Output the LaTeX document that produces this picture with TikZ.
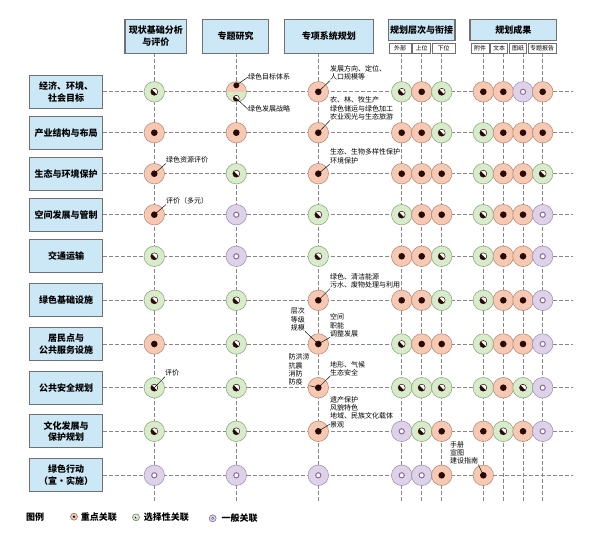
\documentclass[tikz,border=0pt]{standalone}
\usepackage{fontspec}
\setmainfont{Noto Sans CJK SC}
\usepackage{tikz}
\usetikzlibrary{positioning}
\usetikzlibrary{backgrounds}

\definecolor{boxfill}{RGB}{204,232,247}
\definecolor{boxline}{RGB}{112,112,112}
\definecolor{gridcol}{RGB}{142,132,128}
\definecolor{keyfill}{RGB}{248,201,178}
\definecolor{keyline}{RGB}{184,142,126}
\definecolor{selfill}{RGB}{216,235,203}
\definecolor{selline}{RGB}{146,172,132}
\definecolor{genfill}{RGB}{221,210,232}
\definecolor{genline}{RGB}{165,148,184}
\definecolor{genring}{RGB}{139,107,153}
\definecolor{dotcol}{RGB}{43,10,10}

\begin{document}
\begin{tikzpicture}[x=1pt,y=-1pt,
	gridline/.style={draw=gridcol, line width=0.8pt, dash pattern=on 4pt off 2pt},
	leader/.style={draw=black, line width=0.45pt},
	headbox/.style={draw=boxline, line width=1.2pt, fill=boxfill, rectangle, inner sep=1pt,
		align=center, font=\fontsize{9}{11.5}\selectfont\bfseries},
	rowbox/.style={headbox, minimum width=73pt, minimum height=33pt},
	subbox/.style={draw=boxline, line width=0.8pt, fill=white, rectangle, minimum height=10pt,
		inner sep=0pt, font=\fontsize{6}{6}\selectfont},
	note/.style={inner sep=0pt, anchor=north west, align=left, font=\fontsize{7}{8.4}\selectfont},
	legendtext/.style={inner sep=0pt, font=\fontsize{9}{9}\selectfont\bfseries},
	% Kreisymbole
	cellbase/.style={circle, inner sep=0pt, minimum size=20.5pt, line width=0.6pt},
	cell/.style={cellbase, #1cell},
	keycell/.style={draw=keyline, fill=keyfill, path picture={
		\fill[dotcol] (path picture bounding box.center) circle (3.3pt);}},
	selcell/.style={draw=selline, fill=selfill, path picture={
		\fill[white] (path picture bounding box.center) circle (3.5pt);
		\fill[dotcol] (path picture bounding box.center) ++(135:3.5pt)
			arc[start angle=135, end angle=315, radius=3.5pt] -- cycle;
		\draw[dotcol, line width=0.5pt] (path picture bounding box.center) circle (3.5pt);}},
	gencell/.style={draw=genline, fill=genfill, path picture={
		\draw[genring, line width=1pt, fill=white] (path picture bounding box.center) circle (2.6pt);}},
	splitcell/.style={draw=keyline!50!selline, path picture={
		\fill[keyfill] (path picture bounding box.north west) rectangle (path picture bounding box.east);
		\fill[selfill] (path picture bounding box.west) rectangle (path picture bounding box.south east);
		\fill[dotcol] ([yshift=6.5pt]path picture bounding box.center) circle (3pt);
		\fill[white] ([yshift=-6.5pt]path picture bounding box.center) circle (3pt);
		\fill[dotcol] ([yshift=-6.5pt]path picture bounding box.center) ++(135:3pt)
			arc[start angle=135, end angle=315, radius=3pt] -- cycle;
		\draw[dotcol, line width=0.5pt] ([yshift=-6.5pt]path picture bounding box.center) circle (3pt);}},
	nonecell/.style={minimum size=0pt},
	% Legende
	markbase/.style={circle, inner sep=0pt, minimum size=7pt, line width=0.5pt},
	keymark/.style={markbase, draw=keyline!70!black, fill=keyfill, path picture={
		\fill[dotcol] (path picture bounding box.center) circle (1.3pt);}},
	selmark/.style={markbase, draw=selline!70!black, fill=selfill, path picture={
		\fill[white] (path picture bounding box.center) circle (1.6pt);
		\fill[dotcol] (path picture bounding box.center) ++(135:1.6pt)
			arc[start angle=135, end angle=315, radius=1.6pt] -- cycle;}},
	genmark/.style={markbase, draw=genline!70!black, fill=genfill, path picture={
		\draw[genring, line width=0.6pt, fill=white] (path picture bounding box.center) circle (1.2pt);}},
	]

	\useasboundingbox (0,0) rectangle (600,544);

	% Kopfzeile
	% ----------
	\node[headbox, minimum width=61.7pt, minimum height=34pt] (hBase) at (155.8,36.3) {现状基础分析\\与评价};
	\node[headbox, minimum width=66.4pt, minimum height=34pt] (hTopic) at (235.5,36.3) {专题研究};
	\node[headbox, minimum width=89pt, minimum height=34pt] (hSystem) at (328.8,36.3) {专项系统规划};
	\node[headbox, minimum width=66.7pt, minimum height=21.4pt] (hLevel) at (421.7,30) {规划层次与衔接};
	\node[headbox, minimum width=86.7pt, minimum height=21.4pt] (hResult) at (513.3,30) {规划成果};

	\node[subbox, minimum width=22pt] (sOut) at (400,48.3) {外部};
	\node[subbox, minimum width=18pt] (sUp) at (421.7,48.3) {上位};
	\node[subbox, minimum width=22.7pt] (sDown) at (443.7,48.3) {下位};
	\node[subbox, minimum width=18pt] (sAnnex) at (480,48.3) {附件};
	\node[subbox, minimum width=17pt] (sText) at (499.2,48.3) {文本};
	\node[subbox, minimum width=17.4pt] (sMap) at (518,48.3) {图纸};
	\node[subbox, minimum width=27.7pt] (sReport) at (542.2,48.3) {专题报告};

	\foreach \ci/\xx in {1/154.3, 2/236.3, 3/318.3, 4/401.7, 5/421.7, 6/441.7,
		7/483.3, 8/503.3, 9/523, 10/542.7}
		\coordinate (col\ci) at (\xx,53.3);
	\coordinate (gridbot) at (0,503);
	\coordinate (gridend) at (573,0);

	% Zeilen
	% ----------
	\foreach \ri/\yy/\txt in {1/91.8/{经济、环境、\\社会目标}, 2/132.7/产业结构与布局,
		3/173.7/生态与环境保护, 4/214.7/空间发展与管制, 5/256.3/交通运输,
		6/300.3/绿色基础设施, 7/344/{居民点与\\公共服务设施}, 8/387.7/公共安全规划,
		9/431.3/{文化发展与\\保护规划}, 10/475.3/{绿色行动\\（宣・实施）}}
		\node[rowbox] (row\ri) at (66,\yy) {\txt};

	% Matrix
	\foreach \ri/\kinds in {
		1/{sel,split,key,sel,key,sel,key,key,gen,key},
		2/{key,key,key,key,key,sel,sel,key,key,key},
		3/{key,sel,key,key,key,key,sel,key,key,sel},
		4/{key,gen,sel,sel,key,key,sel,key,key,gen},
		5/{sel,gen,sel,key,key,sel,sel,key,key,gen},
		6/{sel,sel,key,key,key,sel,sel,key,key,gen},
		7/{key,sel,key,sel,key,key,sel,key,key,gen},
		8/{sel,sel,key,sel,sel,sel,sel,key,sel,gen},
		9/{sel,sel,key,gen,sel,key,key,sel,key,gen},
		10/{gen,gen,gen,gen,gen,key,key,none,none,none}}
		\foreach \kd [count=\ci] in \kinds
			\node[cell=\kd] (c\ri-\ci) at (col\ci |- row\ri) {};

	\begin{scope}[on background layer]
		\foreach \ci in {1,...,10}
			\draw[gridline] (col\ci) -- (col\ci |- gridbot);
		\foreach \ri in {1,...,10}
			\draw[gridline] (row\ri.east) -- (row\ri.east -| gridend);
	\end{scope}

	% Anmerkungen
	% ----------
	\node[note, anchor=west] (nGoal) at (248,77) {绿色目标体系};
	\node[note, anchor=west] (nStrat) at (248,109.3) {绿色发展战略};
	\node[note, anchor=west] (nRes) at (166,160) {绿色资源评价};
	\node[note, anchor=west] (nEval) at (166,201) {评价（多元）};
	\node[note, anchor=west] (nSafeEval) at (165,373.3) {评价};
	\node[note] (nDev) at (330,65.3) {发展方向、定位、\\人口规模等};
	\node[note] (nAgri) at (330,96.7) {农、林、牧生产\\绿色储运与绿色加工\\农业观光与生态旅游};
	\node[note] (nEco) at (330,148.7) {生态、生物多样性保护\\环境保护};
	\node[note] (nInfra) at (330,273.3) {绿色、清洁能源\\污水、废物处理与利用};
	\node[note] (nLevel) at (290.7,307.7) {层次\\等级\\规模};
	\node[note] (nSpace) at (330,313.7) {空间\\职能\\调整发展};
	\node[note] (nDisaster) at (288.3,353.7) {防洪涝\\抗震\\消防\\防疫};
	\node[note] (nTerrain) at (330,361) {地形、气候\\生态安全};
	\node[note] (nHeritage) at (330,396) {遗产保护\\风貌特色\\地域、民族文化载体\\景观};
	\node[note] (nGuide) at (450,441) {手册\\宣图\\建设指南};

	\draw[leader] ([yshift=6.5pt]c1-2.center) -- (nGoal.west);
	\draw[leader] ([yshift=-6.5pt]c1-2.center) -- (nStrat.west);
	\draw[leader] (c3-1.center) -- (nRes.south west);
	\draw[leader] (c4-1.center) -- (nEval.south west);
	\draw[leader] (c8-1.center) -- (nSafeEval.south west);
	\draw[leader] (c1-3.center) -- (nDev.south west);
	\draw[leader] (c2-3.center) -- (nAgri.south west);
	\draw[leader] (c3-3.center) -- (nEco.south west);
	\draw[leader] (c6-3.center) -- (nInfra.south west);
	\draw[leader] (c7-3.center) -- (nLevel.south east);
	\draw[leader] (c7-3.center) -- (nSpace.south west);
	\draw[leader] (c8-3.center) -- (nDisaster.south east);
	\draw[leader] (c8-3.center) -- (nTerrain.south west);
	\draw[leader] (c9-3.center) -- ([yshift=4pt]nHeritage.south west);
	\draw[leader] (c10-7.center) -- (nGuide.south east);

	% Legende
	% ----------
	\node[legendtext, anchor=west] (lgTitle) at (26,516.7) {图例};
	\node[keymark] (lgKey) at (74,516.7) {};
	\node[legendtext, right=3pt of lgKey] (lgKeyTxt) {重点关联};
	\node[selmark] (lgSel) at (136,517.3) {};
	\node[legendtext, right=4pt of lgSel] (lgSelTxt) {选择性关联};
	\node[genmark] (lgGen) at (212.7,518.3) {};
	\node[legendtext, right=5pt of lgGen] (lgGenTxt) {一般关联};

\end{tikzpicture}
\end{document}
